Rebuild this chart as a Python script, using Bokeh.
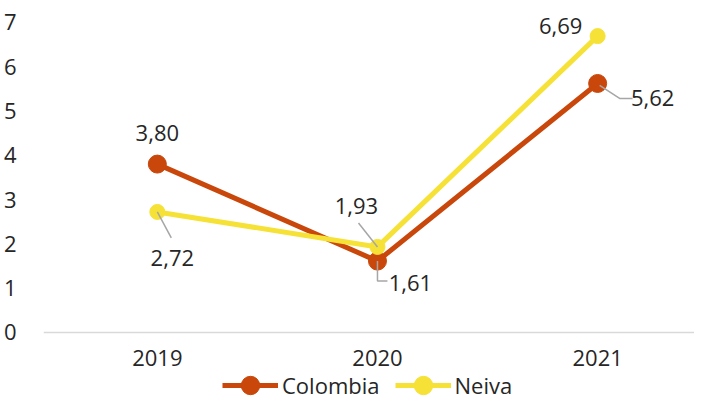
from bokeh.plotting import figure
from bokeh.models import Range1d, FixedTicker, Legend, LegendItem, ColumnDataSource
from bokeh.core.properties import value
from bokeh.embed import file_html
from bokeh.resources import INLINE

years = ["2019", "2020", "2021"]
colombia = [3.80, 1.61, 5.62]
neiva = [2.72, 1.93, 6.69]
y_ticks = [0, 1, 2, 3, 4, 5, 6, 7]

FONT = "Open Sans"
FS = "22px"
C_COL = "#C9470A"
C_NEI = "#F6E236"
GRAY = "#A6A6A6"
TXT = "#262626"

xs = list(range(len(years)))

W, H = 694, 399
BL, BT = 42, 13
X0, X1 = -0.517, 2.440
Y0, Y1 = -1.515, 7.2

p = figure(width=W, height=H, output_backend="svg", toolbar_location=None,
           x_range=Range1d(X0, X1), y_range=Range1d(Y0, Y1),
           min_border_left=BL, min_border_right=0, min_border_top=BT, min_border_bottom=0)
p.outline_line_color = None
p.xgrid.visible = False
p.ygrid.visible = False

p.xaxis.fixed_location = 0
p.xaxis.ticker = FixedTicker(ticks=xs)
p.xaxis.major_label_overrides = {i: y for i, y in enumerate(years)}
p.xaxis.axis_line_color = "#D9D9D9"
p.xaxis.axis_line_width = 1.5
p.xaxis.major_tick_line_color = None
p.xaxis.minor_tick_line_color = None
p.xaxis.major_label_standoff = 12
p.yaxis.ticker = FixedTicker(ticks=y_ticks)
p.yaxis.axis_line_color = None
p.yaxis.major_tick_line_color = None
p.yaxis.minor_tick_line_color = None
p.yaxis.major_label_standoff = 21
for ax in (p.xaxis, p.yaxis):
    ax.major_label_text_font = FONT
    ax.major_label_text_font_size = FS
    ax.major_label_text_color = TXT

r_cl = p.line(xs, colombia, line_color=C_COL, line_width=5)
r_cc = p.scatter(xs, colombia, size=18, fill_color=C_COL, line_color=C_COL)
r_nl = p.line(xs, neiva, line_color=C_NEI, line_width=5)
r_nc = p.scatter(xs, neiva, size=15, fill_color=C_NEI, line_color=C_NEI)

# pixel scale of the frame
ppx = (X1 - X0) / (W - BL)
ppy = (Y1 - Y0) / (H - BT)

# label offsets in pixels (dx right, dy down)
col_off = [(0, -31), (33, 22), (55, 15)]
nei_off = [(15, 46), (-21, -41), (-37, -10)]

lab_x, lab_y, lab_t, lab_dx, lab_dy = [], [], [], [], []
for series, offs in ((colombia, col_off), (neiva, nei_off)):
    for i, v in enumerate(series):
        lab_x.append(xs[i]); lab_y.append(v)
        lab_t.append(f"{v:.2f}".replace(".", ","))
        lab_dx.append(offs[i][0]); lab_dy.append(offs[i][1])

# leader lines: pixel paths relative to the data point (dx, dy down)
leaders = [
    ("nei", 0, [(0, 0), (14, 26)]),
    ("nei", 1, [(0, 0), (-19, -24)]),
    ("col", 1, [(0, 0), (0, 20), (10, 20)]),
    ("col", 2, [(2, 2), (22, 15), (35, 15)]),
]
lx, ly = [], []
for s, i, path in leaders:
    v = neiva[i] if s == "nei" else colombia[i]
    lx.append([xs[i] + dx * ppx for dx, dy in path])
    ly.append([v - dy * ppy for dx, dy in path])
p.multi_line(lx, ly, line_color=GRAY, line_width=1.5)

src = ColumnDataSource(dict(x=lab_x, y=lab_y, t=lab_t, dx=lab_dx, dy=lab_dy))
p.text(x="x", y="y", text="t", x_offset="dx", y_offset="dy", source=src,
       text_font=value(FONT), text_font_size=FS, text_color=TXT,
       text_align="center", text_baseline="middle")

legend = Legend(items=[LegendItem(label="Colombia", renderers=[r_cl, r_cc]),
                       LegendItem(label="Neiva", renderers=[r_nl, r_nc])],
                orientation="horizontal", location=(179, -9),
                glyph_width=56, glyph_height=46, label_standoff=4, spacing=15,
                padding=2, margin=0, border_line_color=None, background_fill_alpha=0,
                label_text_font=FONT, label_text_font_size=FS, label_text_color=TXT)
p.add_layout(legend, "center")

open("out.html", "w").write(file_html(p, INLINE))
